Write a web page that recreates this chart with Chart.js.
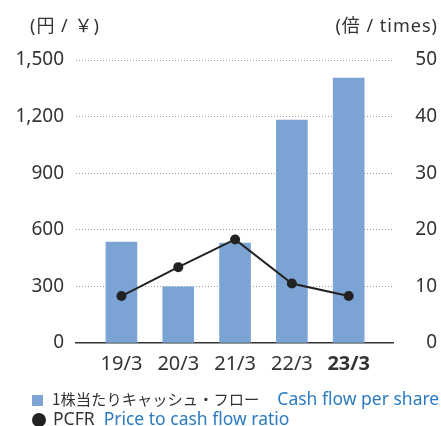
<!DOCTYPE html>
<html lang="ja">
<head>
<meta charset="UTF-8">
<title>Cash flow per share / PCFR</title>
<script src="https://cdn.jsdelivr.net/npm/chart.js@4"></script>
<style>
    body {
        margin: 0;
        background: #fff;
        font-family: "Noto Sans", "Noto Sans CJK JP", sans-serif;
        color: #333;
    }
    .wrap {
        position: relative;
        width: 441px;
        height: 426px;
    }
    canvas { position: absolute; left: 0; top: 0; }
    .unit {
        position: absolute;
        top: 13px;
        font-size: 18px;
        line-height: 24px;
        letter-spacing: 1px;
        color: #333;
        white-space: nowrap;
    }
    .legend {
        position: absolute;
        left: 32px;
        font-size: 17.5px;
        line-height: 20px;
        color: #333;
        white-space: nowrap;
    }
    .legend .ja { font-family: "Noto Sans CJK JP", sans-serif; font-size: 15.3px; }
    .legend .en { color: #2b7bc0; }
    .sq {
        display: inline-block;
        width: 11px; height: 11px;
        background: #7ba3d4;
        margin-right: 9px;
        vertical-align: -1px;
    }
    .dot {
        display: inline-block;
        width: 14px; height: 14px;
        border-radius: 50%;
        background: #222;
        margin-right: 7px;
        vertical-align: -2px;
    }
</style>
</head>
<body>
<div class="wrap">
    <canvas id="chart" width="441" height="426"></canvas>
    <div class="unit" style="left:30px">(円 / ￥)</div>
    <div class="unit" style="right:3px">(倍 / times)</div>
    <div class="legend" style="top:388px"><span class="sq"></span><span class="ja">1株当たりキャッシュ・フロー</span><span class="en" style="margin-left:18px">Cash flow per share</span></div>
    <div class="legend" style="top:408px"><span class="dot"></span>PCFR<span class="en" style="margin-left:9px">Price to cash flow ratio</span></div>
</div>
<script>
// data
const categories = ['19/3', '20/3', '21/3', '22/3', '23/3'];
const cashFlowPerShare = [535, 298, 530, 1182, 1404];   // yen
const pcfr = [8.3, 13.4, 18.3, 10.5, 8.3];              // times
const leftTicks = [0, 300, 600, 900, 1200, 1500];
const rightTicks = [0, 10, 20, 30, 40, 50];

const FONT = '"Noto Sans", "Noto Sans CJK JP", sans-serif';

new Chart(document.getElementById('chart'), {
    data: {
        datasets: [
            {
                type: 'line',
                label: 'PCFR',
                data: pcfr.map((v, i) => ({ x: i, y: v })),
                yAxisID: 'y1',
                borderColor: '#222',
                borderWidth: 2,
                pointRadius: 5,
                pointBackgroundColor: '#222',
                pointBorderWidth: 0,
                tension: 0,
                order: 0
            },
            {
                type: 'bar',
                label: '1株当たりキャッシュ・フロー',
                data: cashFlowPerShare.map((v, i) => ({ x: i, y: v })),
                yAxisID: 'y',
                backgroundColor: '#7ba3d4',
                barThickness: 31,
                order: 1
            }
        ]
    },
    options: {
        responsive: false,
        animation: false,
        layout: { padding: { top: 60, left: 0, right: 4, bottom: 43 } },
        plugins: {
            legend: { display: false },
            tooltip: { enabled: false }
        },
        scales: {
            x: {
                type: 'linear',
                offset: false,
                bounds: 'data',
                min: -0.80,
                max: 4.78,
                afterBuildTicks: s => { s.ticks = categories.map((c, i) => ({ value: i })); },
                afterFit: s => { s.height = 40; },
                grid: { display: false, drawTicks: false },
                border: { display: true, color: '#333', width: 1.5 },
                ticks: {
                    padding: 9,
                    color: '#333',
                    maxRotation: 0,
                    callback: v => categories[v],
                    font: ctx => ({
                        family: FONT,
                        size: 20,
                        weight: ctx.tick && ctx.tick.value === categories.length - 1 ? 'bold' : 'normal'
                    })
                }
            },
            y: {
                position: 'left',
                min: 0,
                max: 1500,
                afterBuildTicks: s => { s.ticks = leftTicks.map(v => ({ value: v })); },
                afterFit: s => { s.width = 76; },
                grid: {
                    drawTicks: false,
                    color: ctx => ctx.tick && ctx.tick.value === 0 ? 'rgba(0,0,0,0)' : '#9a9a9a',
                    lineWidth: 1
                },
                border: { display: false, dash: [1, 2] },
                ticks: {
                    padding: 12,
                    color: '#333',
                    font: { family: FONT, size: 19 },
                    callback: v => v.toLocaleString('en-US')
                }
            },
            y1: {
                position: 'right',
                min: 0,
                max: 50,
                afterBuildTicks: s => { s.ticks = rightTicks.map(v => ({ value: v })); },
                afterFit: s => { s.width = 44; },
                grid: { display: false, drawTicks: false },
                border: { display: false },
                ticks: {
                    crossAlign: 'far',
                    color: '#333',
                    font: { family: FONT, size: 19 }
                }
            }
        }
    }
});
</script>
</body>
</html>
